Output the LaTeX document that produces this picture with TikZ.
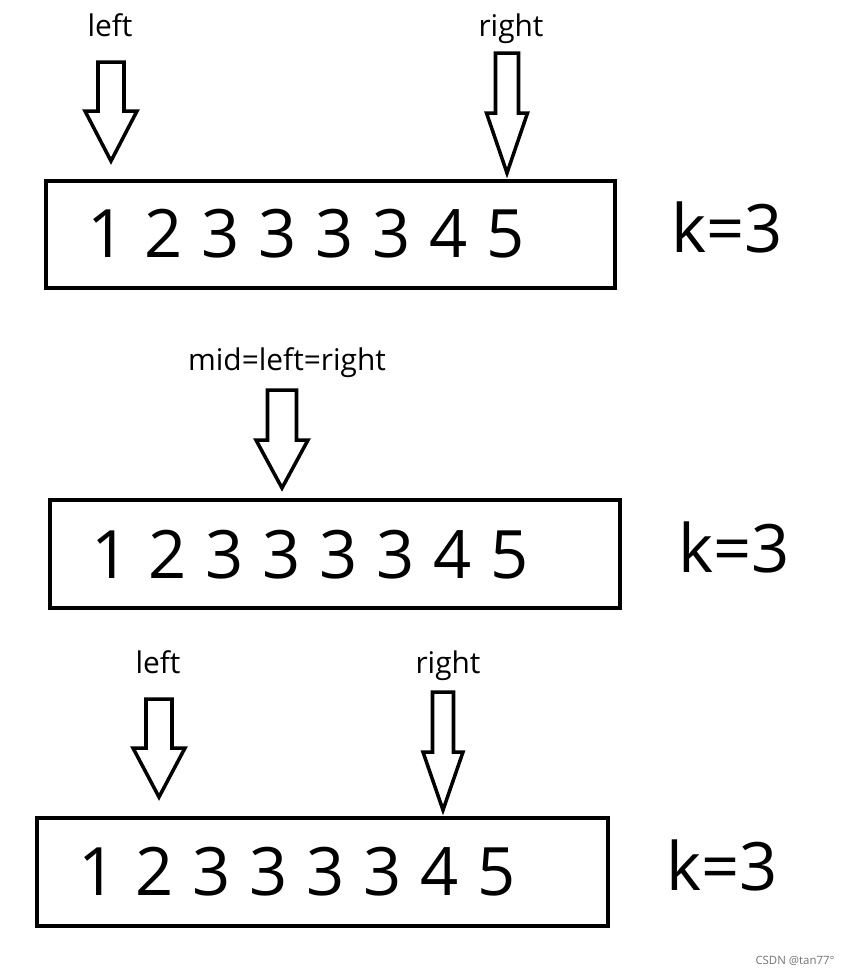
\documentclass[tikz,border=0pt]{standalone}
\usepackage{fontspec}
\setmainfont{Open Sans}
\usetikzlibrary{calc,positioning}

% hollow down arrow: tip, total length, head length, shaft half width, head half width
\newcommand{\hollowarrow}[5]{%
    \draw[hollow] ($(#1)+(-#4,-#2)$) -- ($(#1)+(#4,-#2)$) -- ($(#1)+(#4,-#3)$)
        -- ($(#1)+(#5,-#3)$) -- (#1) -- ($(#1)+(-#5,-#3)$) -- ($(#1)+(-#4,-#3)$) -- cycle;}

\begin{document}
\begin{tikzpicture}[x=0.02cm, y=-0.02cm]
    \tikzset{
        box/.style={draw, line width=2.3pt},
        hollow/.style={draw, line width=2pt, line join=miter},
        lbl/.style={anchor=base, inner sep=0pt, font=\fontsize{17}{20}\selectfont},
        digit/.style={anchor=base, inner sep=0pt, font=\fontsize{38}{44}\selectfont},
        kval/.style={anchor=base, inner sep=0pt, font=\fontsize{38}{44}\selectfont}
    }
    \useasboundingbox (0,0) rectangle (849,975);

    % first row
    \begin{scope}
        \draw[box] (46,181) rectangle (615,288);
        \foreach \d [count=\i from 0] in {1,2,3,3,3,3,4,5}
            \node[digit] (a-\i) at ({107+57*\i},257) {\d};
        \node[kval] (ka) at (727,252) {k=3};

        \node[lbl] (lefta) at (110,36) {left};
        \node[lbl] (righta) at (511,36) {right};
        \coordinate (tiplefta) at (111,161);
        \coordinate (tiprighta) at (507,173);
        \hollowarrow{tiplefta}{99}{50}{13}{26}
        \hollowarrow{tiprighta}{120}{60}{11.5}{20.5}
    \end{scope}

    % second row
    \begin{scope}
        \draw[box] (50,500) rectangle (620,608);
        \foreach \d [count=\i from 0] in {1,2,3,3,3,3,4,5}
            \node[digit] (b-\i) at ({111+57*\i},578) {\d};
        \node[kval] (kb) at (734,572) {k=3};

        \node[lbl] (midb) at (287,370) {mid=left=right};
        \coordinate (tipmidb) at (282,488);
        \hollowarrow{tipmidb}{98}{48}{14.5}{26}
    \end{scope}

    % third row
    \begin{scope}
        \draw[box] (37,818) rectangle (608,926);
        \foreach \d [count=\i from 0] in {1,2,3,3,3,3,4,5}
            \node[digit] (c-\i) at ({98+57*\i},895) {\d};
        \node[kval] (kc) at (722,890) {k=3};

        \node[lbl] (leftc) at (158,673) {left};
        \node[lbl] (rightc) at (448,673) {right};
        \coordinate (tipleftc) at (159,797);
        \coordinate (tiprightc) at (443,810);
        \hollowarrow{tipleftc}{98}{49}{13}{26}
        \hollowarrow{tiprightc}{118}{58}{10.5}{20}
    \end{scope}

    \node[anchor=base, inner sep=0pt, text=black!55, font=\fontsize{6.5}{8}\selectfont] (mark) at (795,964) {CSDN @tan77°};
\end{tikzpicture}
\end{document}
